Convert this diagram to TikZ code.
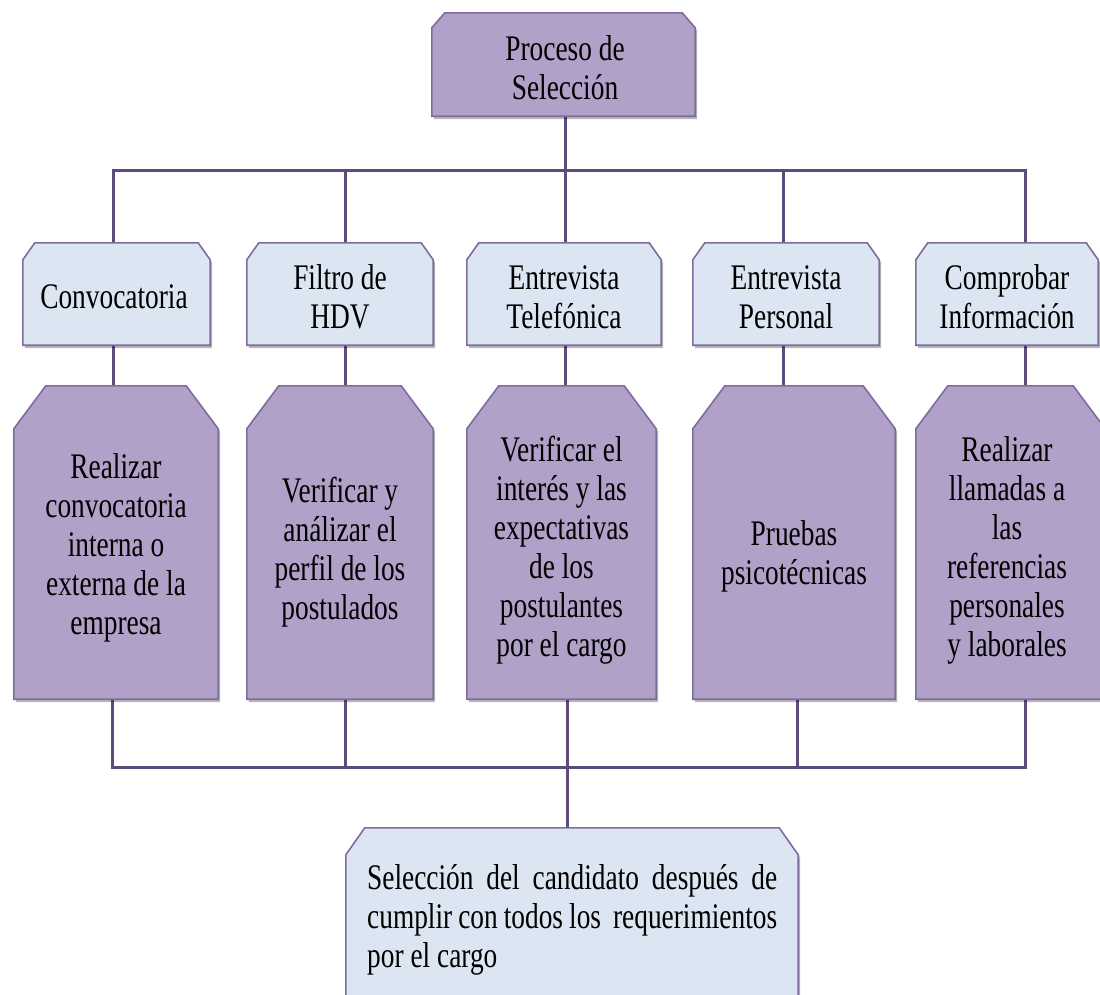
\documentclass[tikz,border=0pt]{standalone}
\usepackage{fontspec}
\setmainfont{Liberation Serif}[FakeStretch=0.76]
\usetikzlibrary{calc}
\definecolor{lav}{HTML}{B1A0C7}
\definecolor{pale}{HTML}{DCE6F2}
\definecolor{edgec}{HTML}{7F6C9F}
\definecolor{wirec}{HTML}{5F4A7C}
\pgfdeclarelayer{wires}
\pgfdeclarelayer{boxes}
\pgfsetlayers{wires,boxes,main}
\newcommand{\snippath}[3]{($(#1.north west)+(#2pt,0pt)$) -- ($(#1.north east)+(-#2pt,0pt)$) -- ($(#1.north east)+(0pt,-#3pt)$) -- (#1.south east) -- (#1.south west) -- ($(#1.north west)+(0pt,-#3pt)$) -- cycle}
\newcommand{\snipbox}[4]{%
  \begin{pgfonlayer}{boxes}
    \fill[black,opacity=.28,transform canvas={shift={(2pt,-3pt)}}] \snippath{#1}{#2}{#3};
    \filldraw[fill=#4,draw=edgec,line width=1.6pt] \snippath{#1}{#2}{#3};
  \end{pgfonlayer}}
\tikzset{
  shapebox/.style={rectangle, inner sep=0pt},
  txt/.style={rectangle, inner sep=0pt, align=center, text=black,
    font=\fontsize{36}{39}\selectfont},
  wire/.style={draw=wirec, line width=3pt, line cap=rect},
}
\begin{document}
\begin{tikzpicture}[x=1pt,y=-1pt]
\useasboundingbox (0,0) rectangle (1100,994);
% box nodes
\node[shapebox, minimum width=263pt, minimum height=103pt] (top) at (563.5,64.5) {};
\node[shapebox, minimum width=187pt, minimum height=102pt] (c1) at (116.5,294) {};
\node[shapebox, minimum width=186pt, minimum height=102pt] (c2) at (340,294) {};
\node[shapebox, minimum width=194pt, minimum height=102pt] (c3) at (564,294) {};
\node[shapebox, minimum width=186pt, minimum height=102pt] (c4) at (786,294) {};
\node[shapebox, minimum width=182pt, minimum height=102pt] (c5) at (1007,294) {};
\node[shapebox, minimum width=204pt, minimum height=313pt] (d1) at (116,542.5) {};
\node[shapebox, minimum width=186pt, minimum height=313pt] (d2) at (340,542.5) {};
\node[shapebox, minimum width=189pt, minimum height=313pt] (d3) at (561.5,542.5) {};
\node[shapebox, minimum width=202pt, minimum height=313pt] (d4) at (794,542.5) {};
\node[shapebox, minimum width=189pt, minimum height=313pt] (d5) at (1010.5,542.5) {};
\node[shapebox, minimum width=452pt, minimum height=182pt] (fin) at (572,919) {};
% texts
\node[txt] (ttop) at (565,68) {Proceso de\\Selección};
\node[txt] (tc1) at (114,297) {Convocatoria};
\node[txt] (tc2) at (340,297) {Filtro de\\HDV};
\node[txt] (tc3) at (564,297) {Entrevista\\Telefónica};
\node[txt] (tc4) at (786,297) {Entrevista\\Personal};
\node[txt] (tc5) at (1007,297) {Comprobar\\Información};
\node[txt] (td1) at (116,548) {Realizar\\convocatoria\\interna o\\externa de la\\empresa};
\node[txt] (td2) at (340,552) {Verificar y\\análizar el\\perfil de los\\postulados};
\node[txt] (td3) at (561.5,550) {Verificar el\\interés y las\\expectativas\\de los\\postulantes\\por el cargo};
\node[txt] (td4) at (794,556) {Pruebas\\psicotécnicas};
\node[txt] (td5) at (1007,550) {Realizar\\llamadas a\\las\\referencias\\personales\\y laborales};
\node[txt, align=justify, text width=410pt, anchor=north west] (tfin) at (367,864)
  {Selección del candidato después de\linebreak cumplir con todos los~ requerimientos\linebreak por el cargo};
% box shapes
\snipbox{top}{13}{15}{lav}
\foreach \n in {c1,c2,c3,c4,c5}{\snipbox{\n}{12}{17}{pale}}
\foreach \n in {d1,d2,d3,d4,d5}{\snipbox{\n}{32}{43}{lav}}
\snipbox{fin}{19}{27}{pale}
% connectors
\begin{pgfonlayer}{wires}
\fill[white] (0,0) rectangle (1100,994);
\coordinate (j1) at (113,170);
\coordinate (j2) at (345,170);
\coordinate (j3) at (565,170);
\coordinate (j4) at (783,170);
\coordinate (j5) at (1025,170);
\coordinate (k1) at (112,767);
\coordinate (k2) at (345,767);
\coordinate (k3) at (567,767);
\coordinate (k4) at (797,767);
\coordinate (k5) at (1025,767);
\draw[wire] (top.center -| j3) -- (j3);
\draw[wire] (j1 |- d1.north) -- (j1) -- (j5) -- (j5 |- d5.north);
\foreach \i in {2,3,4}{\draw[wire] (j\i) -- (j\i |- d\i.north);}
\draw[wire] (k1 |- d1.south) -- (k1) -- (k5) -- (k5 |- d5.south);
\foreach \i in {2,3,4}{\draw[wire] (k\i |- d\i.south) -- (k\i);}
\draw[wire] (k3) -- (k3 |- fin.north);
\end{pgfonlayer}
\end{tikzpicture}
\end{document}
